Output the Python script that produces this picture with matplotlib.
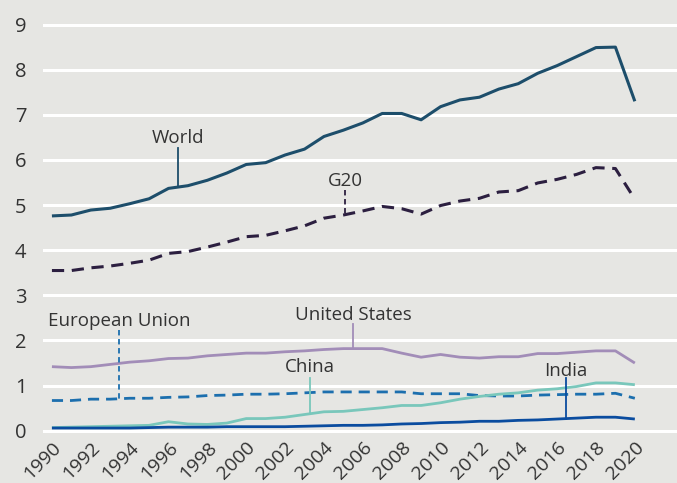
import numpy as np
import matplotlib.pyplot as plt

years = np.arange(1990, 2021)

world = [4.76, 4.78, 4.89, 4.93, 5.03, 5.14, 5.37, 5.43, 5.55, 5.71,
         5.90, 5.94, 6.11, 6.24, 6.52, 6.66, 6.82, 7.03, 7.03, 6.89,
         7.18, 7.33, 7.39, 7.57, 7.69, 7.92, 8.09, 8.29, 8.49, 8.50, 7.30]
g20 = [3.55, 3.55, 3.61, 3.65, 3.71, 3.78, 3.93, 3.97, 4.07, 4.18,
       4.30, 4.33, 4.43, 4.54, 4.71, 4.78, 4.87, 4.97, 4.92, 4.80,
       4.99, 5.09, 5.15, 5.29, 5.32, 5.49, 5.57, 5.68, 5.83, 5.81, 5.13]
us = [1.42, 1.40, 1.42, 1.47, 1.52, 1.55, 1.60, 1.61, 1.66, 1.69,
      1.72, 1.72, 1.75, 1.77, 1.80, 1.82, 1.82, 1.82, 1.72, 1.63,
      1.69, 1.63, 1.61, 1.64, 1.64, 1.71, 1.71, 1.74, 1.77, 1.77, 1.50]
eu = [0.67, 0.67, 0.70, 0.70, 0.72, 0.72, 0.74, 0.75, 0.78, 0.79,
      0.81, 0.81, 0.82, 0.84, 0.86, 0.86, 0.86, 0.86, 0.86, 0.82,
      0.82, 0.82, 0.78, 0.77, 0.77, 0.79, 0.80, 0.81, 0.81, 0.83, 0.72]
china = [0.07, 0.08, 0.09, 0.10, 0.11, 0.12, 0.20, 0.15, 0.14, 0.17,
         0.27, 0.27, 0.30, 0.36, 0.42, 0.43, 0.47, 0.51, 0.56, 0.56,
         0.62, 0.70, 0.76, 0.81, 0.84, 0.90, 0.93, 0.98, 1.06, 1.06, 1.02]
india = [0.06, 0.06, 0.06, 0.06, 0.06, 0.07, 0.08, 0.08, 0.08, 0.09,
         0.09, 0.09, 0.09, 0.10, 0.11, 0.12, 0.12, 0.13, 0.15, 0.16,
         0.18, 0.19, 0.21, 0.21, 0.23, 0.24, 0.26, 0.28, 0.30, 0.30, 0.26]

# name, values, linestyle, colour, leader x (year), label baseline, leader top
labels = [
    ("World", world, "-", "#1d4e6b", 1996.5, 6.37, 6.27),
    ("G20", g20, "--", "#2c1f40", 2005.1, 5.42, 5.33),
    ("United States", us, "-", "#a28db8", 2005.5, 2.45, 2.37),
    ("European Union", eu, "--", "#1c6fae", 1993.45, 2.32, 2.23),
    ("China", china, "-", "#79c7bb", 2003.3, 1.30, 1.17),
    ("India", india, "-", "#0a4c9f", 2016.45, 1.21, 1.17),
]

bg = "#e6e6e3"
plt.rcParams['font.family'] = ['Open Sans', 'DejaVu Sans']

fig = plt.figure(figsize=(6.77, 4.83), dpi=100, facecolor=bg)
ax = fig.add_axes([0.0635, 0.1035, 0.9365, 0.855], facecolor=bg)

for name, vals, ls, col, lx, ly, ltop in labels:
    lw = 2.2 if name in ("World", "G20") else 2.0
    ax.plot(years, vals, color=col, lw=lw, ls=ls, dashes=(4, 2.5) if ls == "--" else (None, None),
            solid_capstyle="butt", zorder=3 if name != "India" else 4)
    yv = np.interp(lx, years, vals)
    ax.plot([lx, lx], [ltop, yv], color=col, lw=1.3,
            ls=(0, (3, 2)) if ls == "--" else "-", zorder=3)
    ax.text(lx, ly, name, ha="center", va="baseline", fontsize=13.5, color="#333333")

ax.set_xlim(1989.54, 2022.17)
ax.set_ylim(-0.05, 9.1)
ax.set_yticks(range(0, 10))
ax.set_xticks(range(1990, 2021, 2))
ax.set_xticklabels([str(y) for y in range(1990, 2021, 2)], rotation=45,
                   ha="right", rotation_mode="anchor", fontsize=14, color="#333333")
ax.tick_params(axis="y", labelsize=14.5, colors="#333333", length=0, pad=12)
ax.tick_params(axis="x", length=0, pad=4)
ax.grid(axis="y", color="white", lw=2.2, zorder=0)
ax.set_axisbelow(True)
for s in ax.spines.values():
    s.set_visible(False)

fig.savefig("out.png", dpi=100, facecolor=bg)
